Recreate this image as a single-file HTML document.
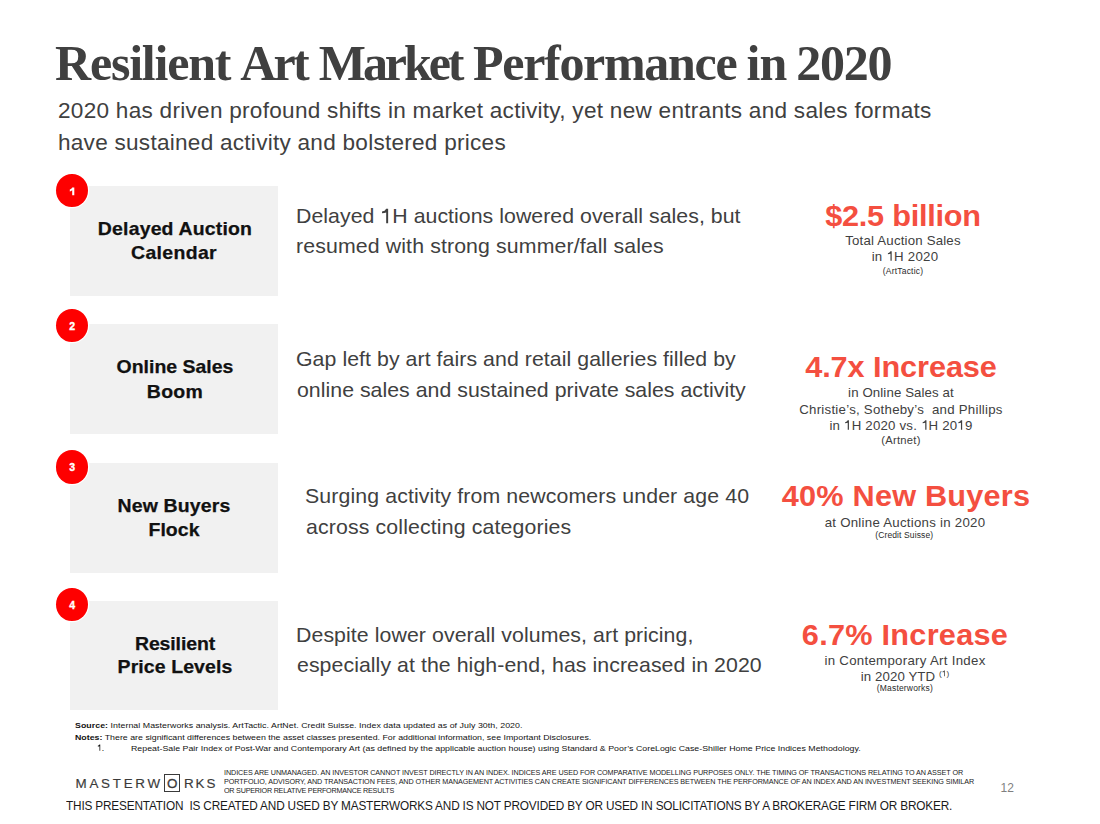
<!DOCTYPE html>
<html><head><meta charset="utf-8">
<style>
*{margin:0;padding:0;box-sizing:border-box}
html,body{width:1100px;height:824px;background:#fff;overflow:hidden}
body{position:relative;font-family:"Liberation Sans",sans-serif;color:#404040}
.a{position:absolute;white-space:nowrap}
.box{position:absolute;left:70px;width:208px;height:110px;background:#f1f1f1}
.badge{position:absolute;left:56px;width:32.2px;height:33.4px;border-radius:50%;background:#fe0000;box-shadow:0 0 0 1.3px #fff;color:#fff;font-weight:bold;font-size:10.5px;text-align:center;line-height:34.7px;-webkit-text-stroke:0.35px #fff}
.one{position:relative;-webkit-text-fill-color:transparent}
.one svg{position:absolute;left:0;top:0;width:0.556em;height:0.905em;overflow:visible}
</style></head><body>
<div class="box" style="top:186px"></div>
<div class="box" style="top:324.2px"></div>
<div class="box" style="top:463px"></div>
<div class="box" style="top:601px;height:108.5px"></div>

<div class="badge" style="top:173.7px"><svg width="32" height="33" style="position:absolute;left:0;top:0" viewBox="0 0 32 33"><path d="M16.2 13.6H18.3V21.2H16.2V16.2Q15.2 17.1 13.8 17.4V15.6Q15.6 15.0 16.2 13.6Z" fill="#fff"/></svg></div>
<div class="badge" style="top:309px">2</div>
<div class="badge" style="top:450.3px">3</div>
<div class="badge" style="top:588px">4</div>
<div id="tw1" class="a" style="top:30.72px;font-size:50px;line-height:65.0px;letter-spacing:-1.2px;color:#404040;font-family:'Liberation Serif',serif;font-weight:bold;left:55.00px;">Resilient</div>
<div id="tw2" class="a" style="top:30.72px;font-size:50px;line-height:65.0px;letter-spacing:-2.7px;color:#404040;font-family:'Liberation Serif',serif;font-weight:bold;left:240.20px;">Art</div>
<div id="tw3" class="a" style="top:30.72px;font-size:50px;line-height:65.0px;letter-spacing:-3.08px;color:#404040;font-family:'Liberation Serif',serif;font-weight:bold;left:318.80px;">Market</div>
<div id="tw4" class="a" style="top:30.72px;font-size:50px;line-height:65.0px;letter-spacing:-1.3px;color:#404040;font-family:'Liberation Serif',serif;font-weight:bold;left:473.00px;">Performance</div>
<div id="tw5" class="a" style="top:30.72px;font-size:50px;line-height:65.0px;letter-spacing:-1.0px;color:#404040;font-family:'Liberation Serif',serif;font-weight:bold;left:746.50px;">in</div>
<div id="tw6" class="a" style="top:30.72px;font-size:50px;line-height:65.0px;letter-spacing:-1.267px;color:#404040;font-family:'Liberation Serif',serif;font-weight:bold;left:796.20px;">2020</div>
<div id="sub1" class="a" style="top:97.58px;font-size:21.5px;line-height:27.95px;letter-spacing:0.258px;color:#404040;font-family:'Liberation Sans',sans-serif;transform:scaleX(1.05);transform-origin:left 0;left:58.00px;">2020 has driven profound shifts in market activity, yet new entrants and sales formats</div>
<div id="sub2" class="a" style="top:130.48px;font-size:21.5px;line-height:27.95px;letter-spacing:0.244px;color:#404040;font-family:'Liberation Sans',sans-serif;transform:scaleX(1.05);transform-origin:left 0;left:58.00px;">have sustained activity and bolstered prices</div>
<div id="l1a" class="a" style="top:218.46px;font-size:17.7px;line-height:23.01px;letter-spacing:0.157px;color:#111;font-family:'Liberation Sans',sans-serif;font-weight:bold;-webkit-text-stroke:0.25px #111;transform:scaleX(1.1);transform-origin:center 0;left:-125.00px;width:600px;text-align:center;">Delayed Auction</div>
<div id="l1b" class="a" style="top:242.16px;font-size:17.7px;line-height:23.01px;letter-spacing:0.3px;color:#111;font-family:'Liberation Sans',sans-serif;font-weight:bold;-webkit-text-stroke:0.25px #111;transform:scaleX(1.1);transform-origin:center 0;left:-125.60px;width:600px;text-align:center;">Calendar</div>
<div id="l2a" class="a" style="top:356.46px;font-size:17.7px;line-height:23.01px;letter-spacing:0.001px;color:#111;font-family:'Liberation Sans',sans-serif;font-weight:bold;-webkit-text-stroke:0.25px #111;transform:scaleX(1.1);transform-origin:center 0;left:-125.10px;width:600px;text-align:center;">Online Sales</div>
<div id="l2b" class="a" style="top:380.66px;font-size:17.7px;line-height:23.01px;letter-spacing:0.3px;color:#111;font-family:'Liberation Sans',sans-serif;font-weight:bold;-webkit-text-stroke:0.25px #111;transform:scaleX(1.1);transform-origin:center 0;left:-124.90px;width:600px;text-align:center;">Boom</div>
<div id="l3a" class="a" style="top:495.46px;font-size:17.7px;line-height:23.01px;letter-spacing:0.159px;color:#111;font-family:'Liberation Sans',sans-serif;font-weight:bold;-webkit-text-stroke:0.25px #111;transform:scaleX(1.1);transform-origin:center 0;left:-125.60px;width:600px;text-align:center;">New Buyers</div>
<div id="l3b" class="a" style="top:519.36px;font-size:17.7px;line-height:23.01px;letter-spacing:0.05px;color:#111;font-family:'Liberation Sans',sans-serif;font-weight:bold;-webkit-text-stroke:0.25px #111;transform:scaleX(1.1);transform-origin:center 0;left:-125.75px;width:600px;text-align:center;">Flock</div>
<div id="l4a" class="a" style="top:632.76px;font-size:17.7px;line-height:23.01px;letter-spacing:-0.098px;color:#111;font-family:'Liberation Sans',sans-serif;font-weight:bold;-webkit-text-stroke:0.25px #111;transform:scaleX(1.1);transform-origin:center 0;left:-125.50px;width:600px;text-align:center;">Resilient</div>
<div id="l4b" class="a" style="top:656.36px;font-size:17.7px;line-height:23.01px;letter-spacing:0.093px;color:#111;font-family:'Liberation Sans',sans-serif;font-weight:bold;-webkit-text-stroke:0.25px #111;transform:scaleX(1.1);transform-origin:center 0;left:-125.10px;width:600px;text-align:center;">Price Levels</div>
<div id="d1a" class="a" style="top:202.77px;font-size:20.3px;line-height:26.39px;letter-spacing:0.038px;color:#404040;font-family:'Liberation Sans',sans-serif;transform:scaleX(1.05);transform-origin:left 0;left:296.20px;">Delayed <span class="one">1<svg viewBox="0 0 556 905" preserveAspectRatio="none"><path d="M290 180H382V905H290V372Q210 395 95 402V322Q240 300 290 180Z" fill="currentColor"/></svg></span>H auctions lowered overall sales, but</div>
<div id="d1b" class="a" style="top:233.27px;font-size:20.3px;line-height:26.39px;letter-spacing:0.116px;color:#404040;font-family:'Liberation Sans',sans-serif;transform:scaleX(1.05);transform-origin:left 0;left:296.00px;">resumed with strong summer/fall sales</div>
<div id="d2a" class="a" style="top:346.47px;font-size:20.3px;line-height:26.39px;letter-spacing:0.056px;color:#404040;font-family:'Liberation Sans',sans-serif;transform:scaleX(1.05);transform-origin:left 0;left:296.00px;">Gap left by art fairs and retail galleries filled by</div>
<div id="d2b" class="a" style="top:377.27px;font-size:20.3px;line-height:26.39px;letter-spacing:0.026px;color:#404040;font-family:'Liberation Sans',sans-serif;transform:scaleX(1.05);transform-origin:left 0;left:297.00px;">online sales and sustained private sales activity</div>
<div id="d3a" class="a" style="top:483.37px;font-size:20.3px;line-height:26.39px;letter-spacing:0.109px;color:#404040;font-family:'Liberation Sans',sans-serif;transform:scaleX(1.05);transform-origin:left 0;left:305.10px;">Surging activity from newcomers under age 40</div>
<div id="d3b" class="a" style="top:514.17px;font-size:20.3px;line-height:26.39px;letter-spacing:0.127px;color:#404040;font-family:'Liberation Sans',sans-serif;transform:scaleX(1.05);transform-origin:left 0;left:306.00px;">across collecting categories</div>
<div id="d4a" class="a" style="top:621.67px;font-size:20.3px;line-height:26.39px;letter-spacing:0.073px;color:#404040;font-family:'Liberation Sans',sans-serif;transform:scaleX(1.05);transform-origin:left 0;left:296.00px;">Despite lower overall volumes, art pricing,</div>
<div id="d4b" class="a" style="top:652.27px;font-size:20.3px;line-height:26.39px;letter-spacing:0.058px;color:#404040;font-family:'Liberation Sans',sans-serif;transform:scaleX(1.05);transform-origin:left 0;left:297.00px;">especially at the high-end, has increased in 2020</div>
<div id="b1" class="a" style="top:196.80px;font-size:29.5px;line-height:38.35px;letter-spacing:-0.238px;color:#f44f40;font-family:'Liberation Sans',sans-serif;font-weight:bold;transform:scaleX(1.04);transform-origin:center 0;left:602.80px;width:600px;text-align:center;">$2.5 billion</div>
<div id="s1a" class="a" style="top:233.25px;font-size:13px;line-height:16.9px;letter-spacing:0.176px;color:#404040;font-family:'Liberation Sans',sans-serif;transform:scaleX(1.02);transform-origin:center 0;left:602.70px;width:600px;text-align:center;">Total Auction Sales</div>
<div id="s1b" class="a" style="top:249.35px;font-size:13px;line-height:16.9px;letter-spacing:0.253px;color:#404040;font-family:'Liberation Sans',sans-serif;transform:scaleX(1.02);transform-origin:center 0;left:605.00px;width:600px;text-align:center;">in <span class="one">1<svg viewBox="0 0 556 905" preserveAspectRatio="none"><path d="M290 180H382V905H290V372Q210 395 95 402V322Q240 300 290 180Z" fill="currentColor"/></svg></span>H 2020</div>
<div id="t1" class="a" style="top:265.53px;font-size:8.5px;line-height:11.05px;letter-spacing:0.2px;color:#2a2a2a;font-family:'Liberation Sans',sans-serif;left:603.00px;width:600px;text-align:center;">(ArtTactic)</div>
<div id="b2" class="a" style="top:347.70px;font-size:29.5px;line-height:38.35px;letter-spacing:-0.08px;color:#f44f40;font-family:'Liberation Sans',sans-serif;font-weight:bold;transform:scaleX(1.04);transform-origin:center 0;left:601.25px;width:600px;text-align:center;">4.7x Increase</div>
<div id="s2a" class="a" style="top:384.95px;font-size:13px;line-height:16.9px;letter-spacing:0.1px;color:#404040;font-family:'Liberation Sans',sans-serif;transform:scaleX(1.02);transform-origin:center 0;left:600.70px;width:600px;text-align:center;">in Online Sales at</div>
<div id="s2b" class="a" style="top:401.65px;font-size:13px;line-height:16.9px;letter-spacing:0.241px;color:#404040;font-family:'Liberation Sans',sans-serif;transform:scaleX(1.02);transform-origin:center 0;left:600.70px;width:600px;text-align:center;">Christie’s, Sotheby’s &nbsp;and Phillips</div>
<div id="s2c" class="a" style="top:417.85px;font-size:13px;line-height:16.9px;letter-spacing:0.198px;color:#404040;font-family:'Liberation Sans',sans-serif;transform:scaleX(1.02);transform-origin:center 0;left:600.80px;width:600px;text-align:center;">in <span class="one">1<svg viewBox="0 0 556 905" preserveAspectRatio="none"><path d="M290 180H382V905H290V372Q210 395 95 402V322Q240 300 290 180Z" fill="currentColor"/></svg></span>H 2020 vs. <span class="one">1<svg viewBox="0 0 556 905" preserveAspectRatio="none"><path d="M290 180H382V905H290V372Q210 395 95 402V322Q240 300 290 180Z" fill="currentColor"/></svg></span>H 20<span class="one">1<svg viewBox="0 0 556 905" preserveAspectRatio="none"><path d="M290 180H382V905H290V372Q210 395 95 402V322Q240 300 290 180Z" fill="currentColor"/></svg></span>9</div>
<div id="s2d" class="a" style="top:432.84px;font-size:11px;line-height:14.3px;letter-spacing:0.254px;color:#404040;font-family:'Liberation Sans',sans-serif;transform:scaleX(1.02);transform-origin:center 0;left:600.60px;width:600px;text-align:center;">(Artnet)</div>
<div id="b3" class="a" style="top:477.40px;font-size:29.5px;line-height:38.35px;letter-spacing:0.2px;color:#f44f40;font-family:'Liberation Sans',sans-serif;font-weight:bold;transform:scaleX(1.04);transform-origin:center 0;left:605.50px;width:600px;text-align:center;">40% New Buyers</div>
<div id="s3a" class="a" style="top:515.05px;font-size:13px;line-height:16.9px;letter-spacing:0.249px;color:#404040;font-family:'Liberation Sans',sans-serif;transform:scaleX(1.02);transform-origin:center 0;left:604.80px;width:600px;text-align:center;">at Online Auctions in 2020</div>
<div id="t3" class="a" style="top:530.33px;font-size:8.5px;line-height:11.05px;letter-spacing:0.121px;color:#2a2a2a;font-family:'Liberation Sans',sans-serif;left:604.25px;width:600px;text-align:center;">(Credit Suisse)</div>
<div id="b4" class="a" style="top:615.60px;font-size:29.5px;line-height:38.35px;letter-spacing:0.248px;color:#f44f40;font-family:'Liberation Sans',sans-serif;font-weight:bold;transform:scaleX(1.04);transform-origin:center 0;left:605.20px;width:600px;text-align:center;">6.7% Increase</div>
<div id="s4a" class="a" style="top:652.65px;font-size:13px;line-height:16.9px;letter-spacing:0.28px;color:#404040;font-family:'Liberation Sans',sans-serif;transform:scaleX(1.02);transform-origin:center 0;left:604.80px;width:600px;text-align:center;">in Contemporary Art Index</div>
<div id="s4b" class="a" style="top:666.05px;font-size:13px;line-height:16.9px;letter-spacing:0.1px;color:#404040;font-family:'Liberation Sans',sans-serif;transform:scaleX(1.02);transform-origin:center 0;left:605.00px;width:600px;text-align:center;">in 2020 YTD <span style="font-size:8px;vertical-align:5px">(<span class="one">1<svg viewBox="0 0 556 905" preserveAspectRatio="none"><path d="M290 180H382V905H290V372Q210 395 95 402V322Q240 300 290 180Z" fill="currentColor"/></svg></span>)</span></div>
<div id="t4" class="a" style="top:683.03px;font-size:8.5px;line-height:11.05px;letter-spacing:0.184px;color:#2a2a2a;font-family:'Liberation Sans',sans-serif;left:604.90px;width:600px;text-align:center;">(Masterworks)</div>
<div id="f1" class="a" style="top:721.13px;font-size:8px;line-height:10.4px;letter-spacing:0.042px;color:#111;font-family:'Liberation Sans',sans-serif;transform:scaleX(1.1);transform-origin:left 0;left:75.20px;"><b>Source:</b> Internal Masterworks analysis. ArtTactic. ArtNet. Credit Suisse. Index data updated as of July 30th, 2020.</div>
<div id="f2" class="a" style="top:732.53px;font-size:8px;line-height:10.4px;letter-spacing:0.007px;color:#111;font-family:'Liberation Sans',sans-serif;transform:scaleX(1.1);transform-origin:left 0;left:75.20px;"><b>Notes:</b> There are significant differences between the asset classes presented. For additional information, see Important Disclosures.</div>
<div id="f3a" class="a" style="top:742.83px;font-size:8.5px;line-height:11.05px;letter-spacing:0.2px;color:#111;font-family:'Liberation Sans',sans-serif;left:96.90px;"><span class="one">1<svg viewBox="0 0 556 905" preserveAspectRatio="none"><path d="M290 180H382V905H290V372Q210 395 95 402V322Q240 300 290 180Z" fill="currentColor"/></svg></span>.</div>
<div id="f3b" class="a" style="top:743.93px;font-size:8px;line-height:10.4px;letter-spacing:0.016px;color:#111;font-family:'Liberation Sans',sans-serif;transform:scaleX(1.1);transform-origin:left 0;left:131.00px;">Repeat-Sale Pair Index of Post-War and Contemporary Art (as defined by the applicable auction house) using Standard &amp; Poor’s CoreLogic Case-Shiller Home Price Indices Methodology.</div>
<div id="dc1" class="a" style="top:767.93px;font-size:8px;line-height:10.4px;letter-spacing:-0.078px;color:#1a1a1a;font-family:'Liberation Sans',sans-serif;transform:scaleX(0.9);transform-origin:left 0;left:223.50px;">INDICES ARE UNMANAGED. AN INVESTOR CANNOT INVEST DIRECTLY IN AN INDEX. INDICES ARE USED FOR COMPARATIVE MODELLING PURPOSES ONLY. THE TIMING OF TRANSACTIONS RELATING TO AN ASSET OR</div>
<div id="dc2" class="a" style="top:776.93px;font-size:8px;line-height:10.4px;letter-spacing:-0.085px;color:#1a1a1a;font-family:'Liberation Sans',sans-serif;transform:scaleX(0.9);transform-origin:left 0;left:223.50px;">PORTFOLIO, ADVISORY, AND TRANSACTION FEES, AND OTHER MANAGEMENT ACTIVITIES CAN CREATE SIGNIFICANT DIFFERENCES BETWEEN THE PERFORMANCE OF AN INDEX AND AN INVESTMENT SEEKING SIMILAR</div>
<div id="dc3" class="a" style="top:786.03px;font-size:8px;line-height:10.4px;letter-spacing:-0.257px;color:#1a1a1a;font-family:'Liberation Sans',sans-serif;transform:scaleX(0.9);transform-origin:left 0;left:223.50px;">OR SUPERIOR RELATIVE PERFORMANCE RESULTS</div>
<div id="pg" class="a" style="top:780.84px;font-size:12px;line-height:15.6px;letter-spacing:0.3px;color:#7f7f7f;font-family:'Liberation Sans',sans-serif;left:1000.40px;">12</div>
<div id="bot" class="a" style="top:797.94px;font-size:12.7px;line-height:16.51px;letter-spacing:-0.187px;color:#1a1a1a;font-family:'Liberation Sans',sans-serif;transform:scaleX(0.93);transform-origin:left 0;left:66.40px;">THIS PRESENTATION &nbsp;IS CREATED AND USED BY MASTERWORKS AND IS NOT PROVIDED BY OR USED IN SOLICITATIONS BY A BROKERAGE FIRM OR BROKER.</div>
<div id="lg1" class="a" style="top:775.25px;font-size:13.4px;line-height:17.42px;letter-spacing:2.734px;color:#3a3a3a;font-family:'Liberation Sans',sans-serif;-webkit-text-stroke:0.15px #3a3a3a;left:75.50px;">MASTERW</div>
<div id="lgo" class="a" style="top:775.25px;font-size:13.4px;line-height:17.42px;letter-spacing:0px;color:#3a3a3a;font-family:'Liberation Sans',sans-serif;-webkit-text-stroke:0.3px #3a3a3a;left:-127.90px;width:600px;text-align:center;">O</div>
<div id="lg2" class="a" style="top:775.25px;font-size:13.4px;line-height:17.42px;letter-spacing:2.0px;color:#3a3a3a;font-family:'Liberation Sans',sans-serif;-webkit-text-stroke:0.15px #3a3a3a;left:183.90px;">RKS</div>
<div style="position:absolute;left:164px;top:774px;width:16.3px;height:17.5px;border:1.8px solid #3a3a3a"></div>
</body></html>
